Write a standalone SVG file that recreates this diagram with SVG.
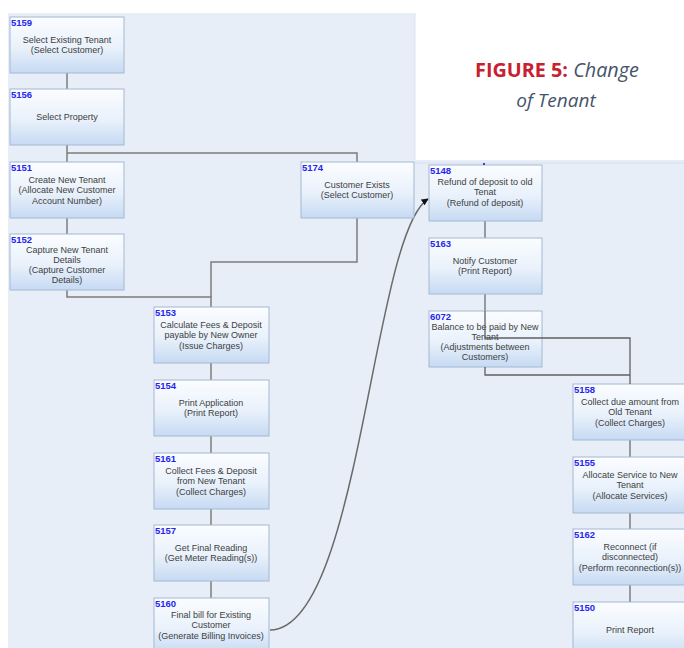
<svg xmlns="http://www.w3.org/2000/svg" width="684" height="648" viewBox="0 0 684 648">
<defs>
<linearGradient id="boxg" x1="0" y1="0" x2="0" y2="1">
<stop offset="0" stop-color="#fbfdff"/>
<stop offset="0.55" stop-color="#e9f1fb"/>
<stop offset="1" stop-color="#c6daf3"/>
</linearGradient>
<marker id="arr" viewBox="0 0 10 10" refX="9" refY="5" markerWidth="7" markerHeight="7" orient="auto" markerUnits="userSpaceOnUse">
<path d="M0,0 L10,5 L0,10 z" fill="#111"/>
</marker>
</defs>
<style>
.box{fill:url(#boxg);stroke:#a3b8d2;stroke-width:1}
.t{font-family:"Liberation Sans",Arial,sans-serif;font-size:9px;fill:#404040;text-anchor:middle}
.id{font-family:"Liberation Sans",Arial,sans-serif;font-size:9.5px;font-weight:bold;fill:#2626f0}
.c{fill:none;stroke:#7c7c7c;stroke-width:1.5}
.cd{fill:none;stroke:#606060;stroke-width:1.3}
</style>
<rect x="0" y="0" width="684" height="648" fill="#ffffff"/>
<path d="M8,13 H415 V160 H684 V648 H8 Z" fill="#e8eef8"/>
<line x1="415" y1="13" x2="415" y2="160" stroke="#dde5f0" stroke-width="1"/>
<line x1="415" y1="163" x2="684" y2="163" stroke="#d6dfeb" stroke-width="1"/>

<g id="title">
<text x="557" y="77" font-family="'Open Sans','Liberation Sans',sans-serif" font-size="19.8" text-anchor="middle"><tspan font-weight="bold" fill="#c8202f">FIGURE 5:</tspan><tspan font-style="italic" fill="#44546a"> Change</tspan></text>
<text x="556" y="107" font-family="'Open Sans','Liberation Sans',sans-serif" font-size="19" font-style="italic" fill="#44546a" text-anchor="middle">of Tenant</text>
</g>

<g id="connectors">
<path class="c" d="M67,73 V89"/>
<path class="c" d="M67,145 V162"/>
<path class="c" d="M67,153 H357 V162"/>
<path class="c" d="M67,218 V234"/>
<path class="c" d="M67,290 V297 H211 V307"/>
<path class="c" d="M357,218 V262 H211 V297"/>
<path class="c" d="M211,363 V380"/>
<path class="c" d="M211,436 V453"/>
<path class="c" d="M211,509 V525"/>
<path class="c" d="M211,581 V598"/>
<path class="c" d="M485,221 V238"/>
<path class="c" d="M485,294 V311"/>
<path class="c" d="M630,440 V457"/>
<path class="c" d="M630,513 V529"/>
<path class="c" d="M630,585 V602"/>
<path d="M270,630 C360,630 372,235 428,199" fill="none" stroke="#6a6a6a" stroke-width="1.5" marker-end="url(#arr)"/>
</g>

<g id="n5159"><rect class="box" x="10" y="17" width="114" height="56"/><text class="id" x="11" y="25.5">5159</text><text class="t" x="67" y="42.5">Select Existing Tenant</text><text class="t" x="67" y="53">(Select Customer)</text></g>
<g id="n5156"><rect class="box" x="10" y="89" width="114" height="56"/><text class="id" x="11" y="97.5">5156</text><text class="t" x="67" y="120">Select Property</text></g>
<g id="n5151"><rect class="box" x="10" y="162" width="114" height="56"/><text class="id" x="11" y="170.5">5151</text><text class="t" x="67" y="182.5">Create New Tenant</text><text class="t" x="67" y="193">(Allocate New Customer</text><text class="t" x="67" y="203.5">Account Number)</text></g>
<g id="n5152"><rect class="box" x="10" y="234" width="114" height="56"/><text class="id" x="11" y="242.5">5152</text><text class="t" x="67" y="253">Capture New Tenant</text><text class="t" x="67" y="263">Details</text><text class="t" x="67" y="273">(Capture Customer</text><text class="t" x="67" y="283">Details)</text></g>
<g id="n5174"><rect class="box" x="301" y="162" width="113" height="56"/><text class="id" x="302" y="170.5">5174</text><text class="t" x="357" y="187.5">Customer Exists</text><text class="t" x="357" y="198">(Select Customer)</text></g>
<g id="n5153"><rect class="box" x="154" y="307" width="115" height="56"/><text class="id" x="155" y="315.5">5153</text><text class="t" x="211" y="327.5">Calculate Fees &amp; Deposit</text><text class="t" x="211" y="338">payable by New Owner</text><text class="t" x="211" y="348.5">(Issue Charges)</text></g>
<g id="n5154"><rect class="box" x="154" y="380" width="115" height="56"/><text class="id" x="155" y="388.5">5154</text><text class="t" x="211" y="405.5">Print Application</text><text class="t" x="211" y="416">(Print Report)</text></g>
<g id="n5161"><rect class="box" x="154" y="453" width="115" height="56"/><text class="id" x="155" y="461.5">5161</text><text class="t" x="211" y="473.5">Collect Fees &amp; Deposit</text><text class="t" x="211" y="484">from New Tenant</text><text class="t" x="211" y="494.5">(Collect Charges)</text></g>
<g id="n5157"><rect class="box" x="154" y="525" width="115" height="56"/><text class="id" x="155" y="533.5">5157</text><text class="t" x="211" y="550.5">Get Final Reading</text><text class="t" x="211" y="561">(Get Meter Reading(s))</text></g>
<g id="n5160"><rect class="box" x="154" y="598" width="115" height="56"/><text class="id" x="155" y="606.5">5160</text><text class="t" x="211" y="617.5">Final bill for Existing</text><text class="t" x="211" y="628">Customer</text><text class="t" x="211" y="638.5">(Generate Billing Invoices)</text></g>
<g id="n5148"><rect class="box" x="429" y="165" width="113" height="56"/><rect x="483" y="163" width="2" height="2" fill="#3b3bf0"/><text class="id" x="430" y="173.5">5148</text><text class="t" x="485" y="184.5">Refund of deposit to old</text><text class="t" x="485" y="195">Tenat</text><text class="t" x="485" y="205.5">(Refund of deposit)</text></g>
<g id="n5163"><rect class="box" x="429" y="238" width="113" height="56"/><text class="id" x="430" y="246.5">5163</text><text class="t" x="485" y="263.5">Notify Customer</text><text class="t" x="485" y="274">(Print Report)</text></g>
<g id="n6072"><rect class="box" x="429" y="311" width="113" height="56"/><text class="id" x="430" y="319.5">6072</text><text class="t" x="485" y="330">Balance to be paid by New</text><text class="t" x="485" y="340">Tenant</text><text class="t" x="485" y="350">(Adjustments between</text><text class="t" x="485" y="360">Customers)</text></g>
<g id="n5158"><rect class="box" x="573" y="384" width="113" height="56"/><text class="id" x="574" y="392.5">5158</text><text class="t" x="630" y="404.5">Collect due amount from</text><text class="t" x="630" y="415">Old Tenant</text><text class="t" x="630" y="425.5">(Collect Charges)</text></g>
<g id="n5155"><rect class="box" x="573" y="457" width="113" height="56"/><text class="id" x="574" y="465.5">5155</text><text class="t" x="630" y="477.5">Allocate Service to New</text><text class="t" x="630" y="488">Tenant</text><text class="t" x="630" y="498.5">(Allocate Services)</text></g>
<g id="n5162"><rect class="box" x="573" y="529" width="113" height="56"/><text class="id" x="574" y="537.5">5162</text><text class="t" x="630" y="549.5">Reconnect (if</text><text class="t" x="630" y="560">disconnected)</text><text class="t" x="630" y="570.5">(Perform reconnection(s))</text></g>
<g id="n5150"><rect class="box" x="573" y="602" width="113" height="56"/><text class="id" x="574" y="610.5">5150</text><text class="t" x="630" y="633">Print Report</text></g>

<g id="connectors-over">
<path class="cd" d="M485,311 V338 H630 V384"/>
<path class="cd" d="M485,367 V375 H630"/>
</g>
</svg>
